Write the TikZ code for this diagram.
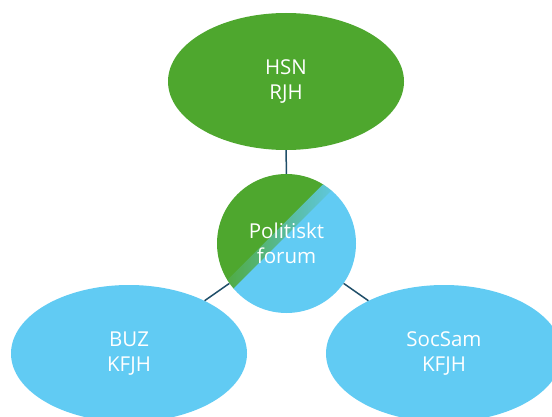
\documentclass[tikz,border=0pt]{standalone}
\usepackage{fontspec}
\setmainfont{Open Sans}
\usetikzlibrary{shapes.geometric}
\definecolor{ggreen}{HTML}{4EA72E}
\definecolor{gblue}{HTML}{61CBF3}
\definecolor{linkc}{HTML}{1F4E69}
\begin{document}
\begin{tikzpicture}[x=1pt,y=1pt,
  lbl/.style={text=white, font=\fontsize{20.5}{25}\selectfont, align=center, inner sep=0pt},
  bubble/.style={ellipse, minimum width=236pt, minimum height=137pt, lbl},
  link/.style={draw=linkc, line width=1.5pt}]
\useasboundingbox (0,0) rectangle (552,416);
\node[bubble, fill=ggreen] (hsn) at (286,334.5) {HSN\\RJH};
\node[bubble, fill=gblue] (buz) at (129,62.5) {BUZ\\KFJH};
\node[bubble, fill=gblue] (soc) at (444,62.5) {SocSam\\KFJH};
\node[circle, minimum size=139pt, inner sep=0pt] (pf) at (286.5,172.5) {};
\begin{scope}
  \clip (pf.center) circle (69.5pt);
  \begin{scope}[shift={(286.5,172.5)}, rotate=-45]
    \fill[ggreen] (-90,-90) rectangle (-15.5,90);
    \shade[left color=ggreen, right color=gblue] (-16,-90) rectangle (-5,90);
    \fill[gblue] (-5.5,-90) rectangle (90,90);
  \end{scope}
\end{scope}
\node[lbl] (pft) at (pf.center) {Politiskt\\forum};
\draw[link] (hsn) -- (pf);
\draw[link] (buz) -- (pf);
\draw[link] (soc) -- (pf);
\end{tikzpicture}
\end{document}
